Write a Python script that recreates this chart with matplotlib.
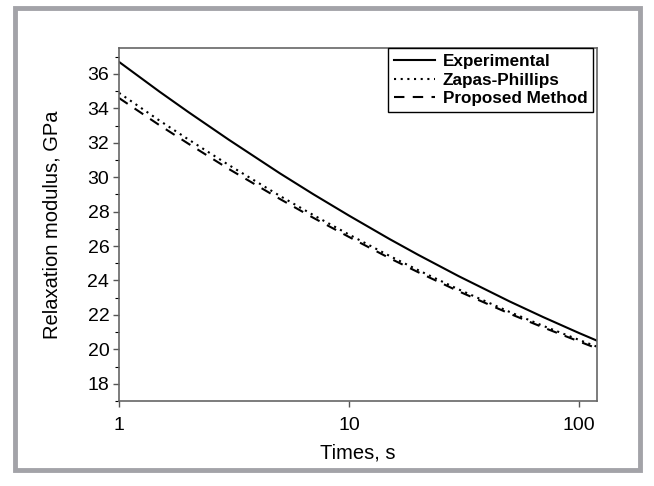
import matplotlib
matplotlib.use("Agg")
import matplotlib.pyplot as plt
from matplotlib.patches import Rectangle
from matplotlib.ticker import MultipleLocator, FixedLocator, NullLocator

plt.rcParams["font.family"] = ["Liberation Sans", "DejaVu Sans"]

# values
times = [1, 1.5, 2, 3, 5, 7, 10, 15, 20, 30, 50, 70, 100, 120]
experimental = [36.70, 34.97, 33.79, 32.18, 30.23, 29.01, 27.77, 26.41, 25.49, 24.25, 22.78, 21.87, 20.95, 20.50]
zapas_phillips = [34.90, 33.29, 32.20, 30.71, 28.92, 27.80, 26.67, 25.43, 24.60, 23.48, 22.17, 21.36, 20.55, 20.15]
proposed = [34.60, 33.02, 31.95, 30.48, 28.74, 27.64, 26.53, 25.30, 24.48, 23.37, 22.07, 21.27, 20.46, 20.05]

fig = plt.figure(figsize=(6.54, 4.86), dpi=100)
ax = fig.add_axes([0.182, 0.175, 0.731, 0.726])

ax.plot(times, experimental, color="black", lw=1.5, ls="-", label="Experimental")
ax.plot(times, zapas_phillips, color="black", lw=1.5, ls=(0, (1, 2.2)), label="Zapas-Phillips")
ax.plot(times, proposed, color="black", lw=1.5, ls=(0, (5, 4)), label="Proposed Method")

ax.set_xscale("log")
ax.set_xlim(1, 120)
ax.set_ylim(17, 37.5)
ax.xaxis.set_major_locator(FixedLocator([1, 10, 100]))
ax.set_xticklabels(["1", "10", "100"])
ax.xaxis.set_minor_locator(NullLocator())
ax.set_yticks(range(18, 37, 2))
ax.yaxis.set_minor_locator(MultipleLocator(1))
ax.tick_params(axis="both", labelsize=14, color="#555555", direction="out")
ax.tick_params(which="major", length=4.5, width=1)
ax.tick_params(which="minor", length=3, width=0.8)
ax.tick_params(axis="x", pad=7)
ax.tick_params(axis="y", pad=2.5)
for s in ax.spines.values():
    s.set_color("#666666")
    s.set_linewidth(1.2)

ax.set_xlabel("Times, s", fontsize=14.5, labelpad=7)
ax.set_ylabel("Relaxation modulus, GPa", fontsize=14.5, labelpad=19)

leg = ax.legend(loc="upper right", bbox_to_anchor=(0.992, 1.0), borderaxespad=0,
                prop={"weight": "bold", "size": 12.3},
                handlelength=2.4, handletextpad=0.45, fancybox=False,
                frameon=True, labelspacing=0.2, borderpad=0.35, framealpha=1)
leg.get_frame().set_edgecolor("black")
leg.get_frame().set_linewidth(1.0)

# grey outer frame
fig.patches.append(Rectangle((15 / 654, 1 - 470 / 486), 625 / 654, 462 / 486,
                             transform=fig.transFigure, fill=False,
                             edgecolor="#a3a3a8", linewidth=3.5))

fig.savefig("out.png", dpi=100)
